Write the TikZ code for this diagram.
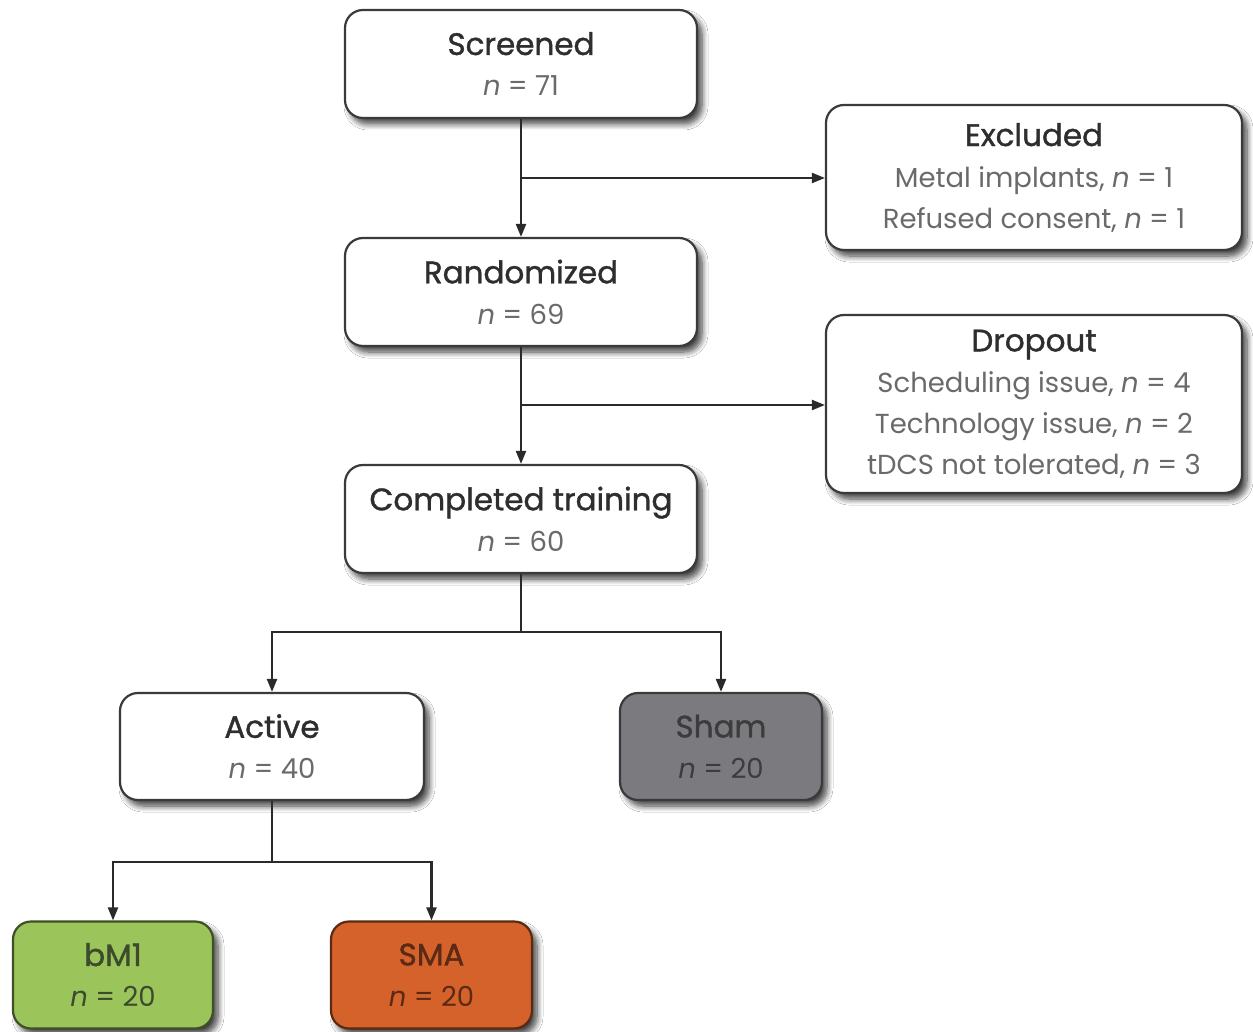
\documentclass[tikz,border=0pt]{standalone}
\usepackage{fontspec}
\setmainfont{Poppins}
\newfontfamily\titlefont{Poppins}[FakeBold=1.2]
\usetikzlibrary{arrows.meta,shadows.blur}
\definecolor{titlecol}{HTML}{2E2E2E}
\definecolor{bodycol}{HTML}{6A6A6A}
\definecolor{bordercol}{HTML}{3A3A3A}
\definecolor{linecol}{HTML}{2A2A2A}
\definecolor{greenfill}{HTML}{9BC45A}
\definecolor{greenborder}{HTML}{3F4F28}
\definecolor{greentext}{HTML}{3E4A2E}
\definecolor{orangefill}{HTML}{D4622A}
\definecolor{orangeborder}{HTML}{5A2A12}
\definecolor{orangetext}{HTML}{5A2A14}
\definecolor{grayfill}{HTML}{7B7B7F}
\definecolor{grayborder}{HTML}{3A3A3C}
\definecolor{graytext}{HTML}{3C3C3E}
\tikzset{
  box/.style={draw=bordercol, line width=2.2pt, rounded corners=18pt, fill=white,
    align=center, minimum width=352pt, minimum height=108pt, inner sep=0pt,
    blur shadow={shadow xshift=5pt, shadow yshift=-6pt, shadow blur steps=8,
      shadow blur radius=6pt, shadow opacity=75},
    font=\fontsize{31}{41}\selectfont\titlefont, text=titlecol},
  sidebox/.style={box, minimum width=416pt},
  smallbox/.style={box, minimum width=200pt, minimum height=107pt},
  conn/.style={line width=2.2pt, draw=linecol},
  arr/.style={conn, -{Triangle[length=13pt,width=10pt]}},
}
\newcommand{\nval}[2][bodycol]{{\normalfont\fontsize{27.5}{41}\selectfont\color{#1}\textit{n} = #2}}
\newcommand{\sub}[1]{{\normalfont\fontsize{27.5}{41}\selectfont\color{bodycol}#1}}
\begin{document}
\begin{tikzpicture}[x=1pt,y=-1pt]
\useasboundingbox[fill=white] (0,0) rectangle (1253,1032);
\node[box] (scr) at (521,64) {Screened\\\nval{71}};
\node[box] (rand) at (521,292) {Randomized\\\nval{69}};
\node[box] (comp) at (521,519) {Completed training\\\nval{60}};
\node[sidebox, minimum height=145pt] (excl) at (1034,177.5)
  {Excluded\\\sub{Metal implants, \textit{n} = 1}\\\sub{Refused consent, \textit{n} = 1}};
\node[sidebox, minimum height=178pt] (drop) at (1034,404)
  {Dropout\\\sub{Scheduling issue, \textit{n} = 4}\\\sub{Technology issue, \textit{n} = 2}\\\sub{tDCS not tolerated, \textit{n} = 3}};
\node[box, minimum width=304pt, minimum height=107pt] (act) at (272,746.5) {Active\\\nval{40}};
\node[smallbox, minimum width=202pt, fill=grayfill, draw=grayborder, text=graytext] (sham) at (721,746.5) {Sham\\\nval[graytext]{20}};
\node[smallbox, fill=greenfill, draw=greenborder, text=greentext] (bm) at (113,975) {bM1\\\nval[greentext]{20}};
\node[smallbox, minimum width=201pt, fill=orangefill, draw=orangeborder, text=orangetext] (sma) at (431.5,975) {SMA\\\nval[orangetext]{20}};
\coordinate (b1) at (521,178);
\coordinate (b2) at (521,405);
\coordinate (b3) at (521,632);
\coordinate (b4) at (272,862);
\draw[arr] (scr.south) -- (rand.north);
\draw[arr] (b1) -- (excl.west |- b1);
\draw[arr] (rand.south) -- (comp.north);
\draw[arr] (b2) -- (drop.west |- b2);
\draw[conn] (comp.south) -- (b3);
\draw[arr] (b3) -| (act.north);
\draw[arr] (b3) -| (sham.north);
\draw[conn] (act.south) -- (b4);
\draw[arr] (b4) -| (bm.north);
\draw[arr] (b4) -| (sma.north);
\end{tikzpicture}
\end{document}
